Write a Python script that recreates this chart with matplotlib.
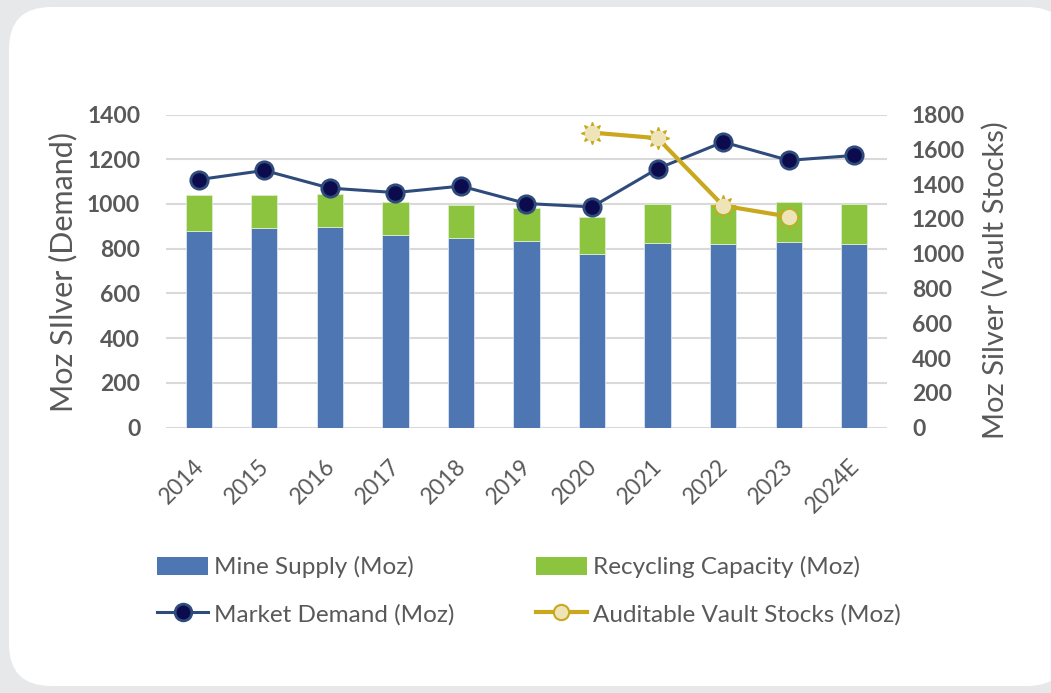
import matplotlib
matplotlib.use('Agg')
import matplotlib.pyplot as plt
from matplotlib.patches import FancyBboxPatch, Patch
from matplotlib.lines import Line2D
import matplotlib.transforms as mtransforms
import numpy as np

plt.rcParams['font.family'] = ['Lato', 'DejaVu Sans']

# Data
years = ['2014', '2015', '2016', '2017', '2018', '2019', '2020', '2021', '2022', '2023', '2024E']
mine_supply = [879, 893, 896, 860, 848, 833, 778, 826, 820, 828, 822]
total_supply = [1039, 1039, 1043, 1007, 994, 982, 944, 999, 1000, 1008, 999]
recycling = [t - m for t, m in zip(total_supply, mine_supply)]
demand = [1109, 1150, 1071, 1051, 1080, 1002, 987, 1158, 1277, 1195, 1217]
vault_years = ['2020', '2021', '2022', '2023']
vault_stocks = [1696, 1664, 1276, 1213]

grey_txt = '#595959'
grid_c = '#d9d9d9'
blue = '#4e76b2'
green = '#8cc43f'
navy_line = '#2f4b7c'
navy_face = '#0b0b4d'
gold = '#c9a81e'
light_gold = '#efe3b8'

fig = plt.figure(figsize=(10.51, 6.93), dpi=100)
fig.patch.set_facecolor('#e7e8ea')

# white rounded card
card = FancyBboxPatch((9 / 1051, 7 / 693), 1060 / 1051, 679 / 693,
                      boxstyle='round,pad=0,rounding_size=0.04',
                      transform=fig.transFigure, facecolor='white',
                      edgecolor='none', zorder=-10, mutation_aspect=1051 / 693)
fig.patches.append(card)

ax = fig.add_axes([166 / 1051, (693 - 427.7) / 693, 721 / 1051, 313.2 / 693])
ax.set_facecolor('none')
x = np.arange(len(years))

ax.bar(x, mine_supply, width=0.4, color=blue, edgecolor='#dce6f2', linewidth=0.6, zorder=2)
ax.bar(x, recycling, width=0.4, bottom=mine_supply, color=green, edgecolor='#dcefc8', linewidth=0.6, zorder=2)
ax.plot(x, demand, color=navy_line, linewidth=2.2, marker='o', markersize=12.5,
        markerfacecolor=navy_face, markeredgecolor=navy_line, markeredgewidth=2, zorder=4)

ax.set_ylim(0, 1400)
ax.set_xlim(-0.5, len(years) - 0.5)
ax.set_yticks(range(0, 1401, 200))
ax.yaxis.grid(True, color=grid_c, linewidth=1.5, zorder=0)
ax.set_axisbelow(True)
for s in ax.spines.values():
    s.set_visible(False)
ax.tick_params(axis='y', length=0, pad=18.5, labelsize=16.5, labelcolor=grey_txt)
for lbl in ax.get_yticklabels():
    lbl.set_fontweight('bold')
ax.set_xticks(x)
ax.set_xticklabels(years, rotation=45, ha='right', rotation_mode='anchor',
                   fontsize=16.5, color=grey_txt)
ax.tick_params(axis='x', length=0, pad=20)
shift = mtransforms.ScaledTranslation(-6 / 100, 0, fig.dpi_scale_trans)
for lbl in ax.get_xticklabels():
    lbl.set_transform(lbl.get_transform() + shift)

ax2 = ax.twinx()
vx = [years.index(v) for v in vault_years]
ax2.plot(vx, vault_stocks, color=gold, linewidth=3, zorder=5)
ax2.plot(vx, vault_stocks, linestyle='none', marker=(8, 1, 0), markersize=16,
         markerfacecolor=gold, markeredgecolor=gold, zorder=6)
ax2.plot(vx, vault_stocks, linestyle='none', marker='o', markersize=11,
         markerfacecolor=light_gold, markeredgecolor='none', zorder=7)
ax2.set_ylim(0, 1800)
ax2.set_yticks(range(0, 1801, 200))
for s in ax2.spines.values():
    s.set_visible(False)
ax2.tick_params(axis='y', length=0, pad=18, labelsize=16.5, labelcolor=grey_txt)
for lbl in ax2.get_yticklabels():
    lbl.set_fontweight('bold')

fig.text(63 / 1051, 1 - 272 / 693, 'Moz SIlver (Demand)', rotation=90,
         ha='center', va='center', fontsize=22, color=grey_txt)
fig.text(995 / 1051, 1 - 280 / 693, 'Moz Silver (Vault Stocks)', rotation=90,
         ha='center', va='center', fontsize=21, color=grey_txt)

# legend
h_mine = Patch(facecolor=blue, edgecolor='none')
h_rec = Patch(facecolor=green, edgecolor='none')
h_dem = Line2D([], [], color=navy_line, linewidth=2.2, marker='o', markersize=12,
               markerfacecolor=navy_face, markeredgecolor=navy_line, markeredgewidth=2)
h_vault = Line2D([], [], color=gold, linewidth=3, marker='o', markersize=11,
                 markerfacecolor=light_gold, markeredgecolor=gold, markeredgewidth=1.5)
fig.legend([h_mine, h_dem, h_rec, h_vault],
           ['Mine Supply (Moz)', 'Market Demand (Moz)', 'Recycling Capacity (Moz)',
            'Auditable Vault Stocks (Moz)'],
           ncol=2, loc='upper left', bbox_to_anchor=(157 / 1051, 1 - 556 / 693),
           frameon=False, fontsize=17.5, labelcolor=grey_txt,
           handlelength=2.1, handleheight=0.75, handletextpad=0.25,
           labelspacing=1.05, columnspacing=3.35, borderpad=0, borderaxespad=0)

fig.savefig('out.png', dpi=100, facecolor=fig.get_facecolor())
